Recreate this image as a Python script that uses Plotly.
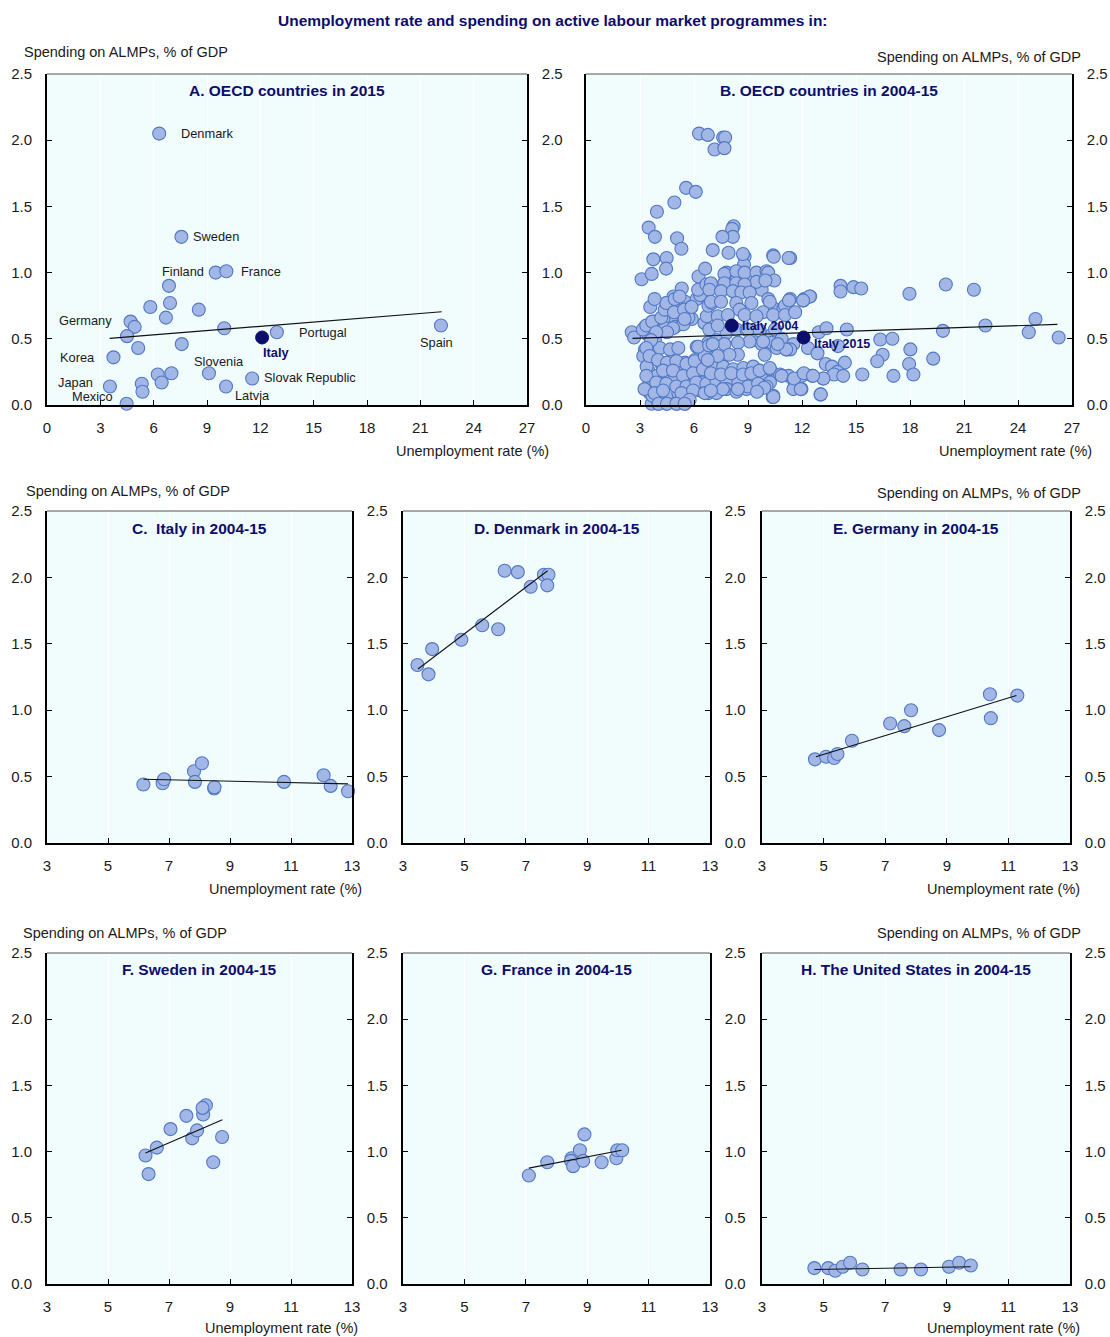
import plotly.graph_objects as go

W, H = 1110, 1337

# ---------------- DATA ----------------
# Panel A: OECD countries in 2015
A_names = ["Denmark", "Sweden", "Finland", "France", "", "", "", "", "", "Germany", "", "", "", "", "",
           "Portugal", "Spain", "Korea", "", "", "", "Slovenia", "Slovak Republic", "Latvia", "", "",
           "Japan", "Mexico"]
A_unemp = [6.31, 7.56, 9.49, 10.09, 6.86, 5.81, 6.92, 8.54, 6.69, 4.70, 4.93, 4.50, 5.13, 7.58, 9.97,
           12.93, 22.16, 3.74, 6.23, 7.00, 6.45, 9.11, 11.54, 10.07, 5.33, 5.37, 3.54, 4.48]
A_spend = [2.05, 1.27, 1.00, 1.01, 0.90, 0.74, 0.77, 0.72, 0.66, 0.63, 0.59, 0.52, 0.43, 0.46, 0.58,
           0.55, 0.60, 0.36, 0.23, 0.24, 0.17, 0.24, 0.20, 0.14, 0.16, 0.10, 0.14, 0.01]
A_italy = [12.10, 0.51]
A_trend_x = [3.52, 22.2]
A_trend_y = [0.503, 0.704]

# Panel B: OECD countries in 2004-15 (unemployment, spending)
B_points = [
    [6.28, 2.05], [6.77, 2.04], [7.62, 2.02], [7.73, 2.02], [7.14, 1.93], [7.69, 1.94],
    [5.56, 1.64], [6.10, 1.61], [4.91, 1.53], [3.94, 1.46], [3.48, 1.34], [3.83, 1.27],
    [8.20, 1.35], [8.12, 1.33], [8.16, 1.27], [7.58, 1.27], [5.06, 1.26], [5.30, 1.18],
    [3.74, 1.10], [4.48, 1.11], [4.45, 1.03], [3.09, 0.95], [3.65, 0.99], [6.25, 0.97], [6.62, 1.03],
    [5.32, 0.88], [4.86, 0.82], [4.48, 0.77], [5.04, 0.73], [5.50, 0.78], [5.84, 0.74], [5.88, 0.65],
    [4.76, 0.67], [4.30, 0.65], [3.80, 0.63], [3.28, 0.59], [2.54, 0.55], [2.67, 0.51], [3.46, 0.53],
    [3.98, 0.56], [4.39, 0.58], [4.95, 0.59], [5.41, 0.61], [5.69, 0.66], [6.15, 0.80], [6.34, 0.83],
    [6.58, 0.62], [6.71, 0.67], [6.80, 0.75], [7.00, 0.77],
    [3.83, 0.49], [3.28, 0.42], [3.18, 0.37], [3.74, 0.36], [4.11, 0.43], [4.67, 0.42], [5.13, 0.43],
    [6.15, 0.44], [6.80, 0.47], [6.84, 0.38], [6.06, 0.34], [5.50, 0.32], [4.76, 0.31], [4.20, 0.31],
    [3.46, 0.26], [3.37, 0.29], [3.93, 0.22], [4.39, 0.22], [4.95, 0.22], [5.41, 0.26], [5.88, 0.23],
    [6.34, 0.24], [6.80, 0.27], [6.52, 0.17], [6.06, 0.14], [5.41, 0.11], [4.86, 0.12], [4.30, 0.16],
    [3.93, 0.14], [3.46, 0.14], [3.55, 0.09], [4.11, 0.09], [4.58, 0.09], [5.13, 0.09], [5.78, 0.09],
    [6.34, 0.11], [6.80, 0.14], [6.80, 0.09], [3.65, 0.01], [4.02, 0.01], [4.48, 0.01], [5.04, 0.01],
    [5.50, 0.01], [3.69, 0.07],
    [3.16, 0.57], [3.35, 0.60], [3.68, 0.63], [4.18, 0.66], [4.37, 0.72], [4.46, 0.77], [4.93, 0.80],
    [5.20, 0.82], [4.89, 0.70], [5.45, 0.72], [5.86, 0.74], [5.48, 0.65], [4.83, 0.58], [4.50, 0.55],
    [3.90, 0.55], [3.62, 0.49], [3.35, 0.43], [3.53, 0.37], [4.00, 0.34], [4.50, 0.32], [5.02, 0.33],
    [5.58, 0.31], [6.04, 0.33], [6.60, 0.37], [6.23, 0.44], [6.84, 0.45], [7.25, 0.49], [7.81, 0.545],
    [8.36, 0.57], [8.92, 0.57], [9.29, 0.49], [9.76, 0.46], [10.04, 0.48], [10.32, 0.53], [10.78, 0.44],
    [11.15, 0.42], [11.52, 0.46], [4.28, 0.26], [4.83, 0.26], [5.39, 0.22], [5.95, 0.24], [6.50, 0.27],
    [7.06, 0.29], [7.62, 0.29], [8.18, 0.27], [8.74, 0.28], [9.29, 0.29], [9.76, 0.24], [10.22, 0.27],
    [10.78, 0.23], [11.25, 0.22], [3.35, 0.22], [3.90, 0.17], [4.46, 0.16], [5.02, 0.14], [5.58, 0.14],
    [6.13, 0.17], [6.69, 0.16], [7.25, 0.18], [7.81, 0.17], [8.46, 0.17], [9.01, 0.14], [9.67, 0.14],
    [10.22, 0.17], [3.25, 0.12], [3.81, 0.09], [4.28, 0.11], [5.30, 0.09], [5.95, 0.11], [6.60, 0.09],
    [7.25, 0.09], [7.81, 0.12], [8.36, 0.10], [8.92, 0.12], [9.48, 0.11], [10.37, 0.06], [5.76, 0.04],
    [4.03, 0.01], [4.50, 0.01], [5.02, 0.01], [5.48, 0.01], [3.57, 0.74], [3.81, 0.80],
    [6.23, 0.87], [6.69, 0.91], [7.81, 1.00], [7.71, 0.93], [8.92, 0.95], [9.76, 0.87], [10.13, 0.80],
    [10.41, 0.73], [10.97, 0.73], [11.34, 0.80], [12.12, 0.80], [12.45, 0.82],
    [7.04, 1.17], [7.92, 1.15], [8.81, 1.12], [8.78, 1.06], [8.72, 1.14], [10.40, 1.13], [11.34, 1.11],
    [7.69, 0.99], [8.35, 1.01], [8.81, 1.00], [9.47, 1.00], [10.03, 1.01], [10.12, 1.00], [10.46, 0.94],
    [9.47, 0.93], [9.97, 0.94], [6.94, 0.92], [7.69, 0.92], [8.35, 0.92], [8.81, 0.91], [6.85, 0.87],
    [7.50, 0.86], [8.16, 0.86], [8.63, 0.85], [9.09, 0.85], [6.94, 0.78], [7.50, 0.78], [8.35, 0.77],
    [8.53, 0.72], [9.19, 0.77], [10.21, 0.78], [11.06, 0.75], [9.84, 0.70], [10.40, 0.68], [11.06, 0.68],
    [11.62, 0.70], [7.32, 0.67], [7.88, 0.68], [8.81, 0.68], [9.47, 0.67], [6.85, 0.57], [7.32, 0.60],
    [9.00, 0.57], [9.65, 0.56], [10.50, 0.57], [10.87, 0.50], [10.31, 0.47], [9.84, 0.48], [9.09, 0.48],
    [8.44, 0.47], [7.69, 0.46], [7.04, 0.46], [8.44, 0.38], [7.97, 0.38], [7.32, 0.37], [6.76, 0.34],
    [9.93, 0.38], [10.59, 0.43], [11.34, 0.42], [6.94, 0.24], [7.50, 0.23], [8.07, 0.24], [8.72, 0.23],
    [9.19, 0.24], [9.65, 0.26], [10.21, 0.28], [10.87, 0.22], [11.52, 0.19], [11.99, 0.22], [9.00, 0.14],
    [8.44, 0.12], [7.60, 0.12], [6.94, 0.11], [10.03, 0.14], [9.56, 0.16], [10.40, 0.07], [11.52, 0.12],
    [10.43, 1.12], [11.26, 1.11], [11.28, 0.79], [12.07, 0.79], [11.12, 0.42], [10.65, 0.46],
    [11.56, 0.20], [11.97, 0.12], [13.03, 0.08], [13.18, 0.20], [12.57, 0.22], [12.10, 0.24],
    [10.41, 0.06], [9.90, 0.13], [9.50, 0.10],
    [14.14, 0.90], [14.14, 0.857], [14.86, 0.89], [15.29, 0.88], [17.97, 0.84], [19.99, 0.91],
    [21.55, 0.87], [12.43, 0.82], [12.06, 0.79], [12.93, 0.55], [13.36, 0.58], [14.49, 0.57],
    [16.35, 0.495], [17.02, 0.50], [19.83, 0.56], [22.19, 0.60], [24.97, 0.65], [24.60, 0.55],
    [26.26, 0.51], [12.33, 0.43], [12.86, 0.39], [14.00, 0.445], [18.02, 0.42], [16.48, 0.38],
    [16.18, 0.33], [19.29, 0.35], [17.95, 0.31], [14.38, 0.32], [13.32, 0.31], [13.67, 0.29],
    [13.97, 0.25], [13.78, 0.23], [14.29, 0.22], [13.19, 0.20], [12.61, 0.22], [15.35, 0.23],
    [17.08, 0.22], [18.19, 0.23], [11.93, 0.12], [13.04, 0.08],
]
B_unemp = [p[0] for p in B_points]
B_spend = [p[1] for p in B_points]
B_italy_labels = ["Italy 2004", "Italy 2015"]
B_italy_unemp = [8.10, 12.09]
B_italy_spend = [0.60, 0.51]
B_trend_x = [2.58, 26.19]
B_trend_y = [0.503, 0.609]

# Panels C-H: single countries in 2004-15
C_unemp = [6.16, 6.79, 6.84, 7.82, 7.85, 8.08, 8.48, 8.49, 10.77, 12.07, 12.30, 12.87]
C_spend = [0.44, 0.45, 0.48, 0.54, 0.46, 0.60, 0.41, 0.42, 0.46, 0.51, 0.43, 0.39]
C_trend_x, C_trend_y = [6.16, 12.87], [0.48, 0.445]

D_unemp = [3.47, 3.83, 3.95, 4.90, 5.58, 6.10, 6.31, 6.74, 7.16, 7.59, 7.74, 7.70]
D_spend = [1.34, 1.27, 1.46, 1.53, 1.64, 1.61, 2.05, 2.04, 1.93, 2.02, 2.02, 1.94]
D_trend_x, D_trend_y = [3.49, 7.71], [1.31, 2.05]

E_unemp = [4.72, 5.08, 5.34, 5.45, 5.92, 7.16, 7.62, 7.84, 8.75, 10.40, 10.43, 11.29]
E_spend = [0.63, 0.65, 0.64, 0.67, 0.77, 0.90, 0.88, 1.00, 0.85, 1.12, 0.94, 1.11]
E_trend_x, E_trend_y = [4.75, 11.26], [0.65, 1.11]

F_unemp = [6.23, 6.33, 6.60, 7.05, 7.57, 7.76, 7.92, 8.12, 8.21, 8.10, 8.45, 8.74]
F_spend = [0.97, 0.83, 1.03, 1.17, 1.27, 1.10, 1.16, 1.28, 1.35, 1.33, 0.92, 1.11]
F_trend_x, F_trend_y = [6.23, 8.75], [0.99, 1.24]

G_unemp = [7.10, 7.70, 8.49, 8.47, 8.54, 8.76, 8.87, 8.91, 9.47, 9.95, 9.98, 10.14]
G_spend = [0.82, 0.92, 0.95, 0.93, 0.89, 1.01, 0.93, 1.13, 0.92, 0.95, 1.01, 1.01]
G_trend_x, G_trend_y = [7.10, 10.12], [0.875, 1.01]

H_unemp = [4.70, 5.15, 5.38, 5.62, 5.86, 6.26, 7.50, 8.16, 9.07, 9.40, 9.78]
H_spend = [0.12, 0.12, 0.10, 0.13, 0.16, 0.11, 0.11, 0.11, 0.13, 0.16, 0.14]
H_trend_x, H_trend_y = [4.70, 9.78], [0.11, 0.13]

main_title = "Unemployment rate and spending on active labour market programmes in:"
panel_titles = ["A. OECD countries in 2015", "B. OECD countries in 2004-15", "C.  Italy in 2004-15",
                "D. Denmark in 2004-15", "E. Germany in 2004-15", "F. Sweden in 2004-15",
                "G. France in 2004-15", "H. The United States in 2004-15"]
y_title = "Spending on ALMPs, % of GDP"
x_title = "Unemployment rate (%)"
y_ticks = [0.0, 0.5, 1.0, 1.5, 2.0, 2.5]

# ---------------- STYLE ----------------
FONT = "Liberation Sans, Arial, sans-serif"
NAVY = "#0D0D6B"
TXT = "#1a1a1a"
FILL = "#A2B7E6"
EDGE = "#5178C4"
BG = "#F1FCFD"
TICK_SIZE = 15
AXT_SIZE = 14.5
LAB_SIZE = 12.8

def px_x(p):
    return p / W

def px_y(p):
    return 1 - p / H

# panel geometry in pixels: (left, right, top, bottom)
geom = [
    (47, 527, 74, 405), (586, 1072, 74, 405),
    (47, 352, 511, 843), (403, 710, 511, 843), (762, 1070, 511, 843),
    (47, 352, 953, 1284), (403, 710, 953, 1284), (762, 1070, 953, 1284),
]
xranges = [[0, 27], [0, 27]] + [[3, 13]] * 6
xdticks = [3, 3] + [2] * 6
xtick0 = [0, 0] + [3] * 6
left_label_panels = {0: 9, 2: 10, 5: 11}  # panel index -> overlay y-axis number

fig = go.Figure()

def ax(n, kind):
    return kind if n == 1 else f"{kind}{n}"

series = [
    (A_unemp, A_spend, A_trend_x, A_trend_y),
    (B_unemp, B_spend, B_trend_x, B_trend_y),
    (C_unemp, C_spend, C_trend_x, C_trend_y),
    (D_unemp, D_spend, D_trend_x, D_trend_y),
    (E_unemp, E_spend, E_trend_x, E_trend_y),
    (F_unemp, F_spend, F_trend_x, F_trend_y),
    (G_unemp, G_spend, G_trend_x, G_trend_y),
    (H_unemp, H_spend, H_trend_x, H_trend_y),
]

layout = dict(
    width=W, height=H, margin=dict(l=0, r=0, t=0, b=0, pad=0, autoexpand=False),
    paper_bgcolor="white", plot_bgcolor=BG, showlegend=False,
    font=dict(family=FONT, size=AXT_SIZE, color=TXT),
)
shapes = []
annotations = []
tickfont = dict(size=TICK_SIZE, color=TXT, family=FONT)

for i, (xs, ys, tx, ty) in enumerate(series):
    n = i + 1
    l, r, t, b = geom[i]
    xa = ax(n, "x")
    ya = ax(n, "y")
    fig.add_trace(go.Scatter(
        x=xs, y=ys, mode="markers", xaxis=xa, yaxis=ya, cliponaxis=False,
        marker=dict(size=13, color=FILL, line=dict(color=EDGE, width=1.1)),
        hoverinfo="skip"))
    trend_y_axis = ax(left_label_panels[i], "y") if i in left_label_panels else ya
    fig.add_trace(go.Scatter(
        x=tx, y=ty, mode="lines", xaxis=xa, yaxis=trend_y_axis,
        line=dict(color="#111111", width=1.1), hoverinfo="skip"))

    layout["xaxis" if n == 1 else f"xaxis{n}"] = dict(
        domain=[px_x(l), px_x(r)], anchor=ya, range=xranges[i], dtick=xdticks[i], tick0=xtick0[i],
        showline=True, linecolor="#000000", linewidth=1.6, automargin=False,
        ticks="inside", ticklen=5, tickwidth=1.2, tickcolor="#000000",
        showgrid=True, gridcolor="#FFFFFF", gridwidth=1.2, zeroline=False,
        ticklabelstandoff=8, tickfont=tickfont,
    )
    layout["yaxis" if n == 1 else f"yaxis{n}"] = dict(
        domain=[px_y(b), px_y(t)], anchor=xa, range=[0, 2.5], tickvals=y_ticks,
        tickformat=".1f", side="right", automargin=False,
        showline=True, linecolor="#000000", linewidth=1.6, mirror="ticks",
        ticks="inside", ticklen=5, tickwidth=1.2, tickcolor="#000000",
        showgrid=False, zeroline=False,
        ticklabelstandoff=10, tickfont=tickfont,
    )
    if i in left_label_panels:
        m = left_label_panels[i]
        layout[f"yaxis{m}"] = dict(
            overlaying=ya, anchor=xa, side="left", range=[0, 2.5], tickvals=y_ticks,
            tickformat=".1f", showline=False, ticks="", showgrid=False, zeroline=False,
            automargin=False, ticklabelstandoff=14, tickfont=tickfont,
        )
    # thin top border
    shapes.append(dict(type="line", xref=f"{xa} domain", yref=f"{ya} domain",
                       x0=0, x1=1, y0=1, y1=1, line=dict(color="#555555", width=1)))
    # panel title
    annotations.append(dict(text=f"<b>{panel_titles[i]}</b>", xref=f"{xa} domain", yref=f"{ya} domain",
                            x=0.5, y=1, yshift=-17, xanchor="center", yanchor="middle", showarrow=False,
                            font=dict(size=15.5, color=NAVY, family=FONT)))

# Italy highlights
fig.add_trace(go.Scatter(x=[A_italy[0]], y=[A_italy[1]], mode="markers", xaxis="x", yaxis="y",
                         marker=dict(size=13, color=NAVY, line=dict(color=NAVY, width=1)),
                         cliponaxis=False, hoverinfo="skip"))
fig.add_trace(go.Scatter(x=B_italy_unemp, y=B_italy_spend, mode="markers", xaxis="x2", yaxis="y2",
                         marker=dict(size=13, color=NAVY, line=dict(color=NAVY, width=1)),
                         cliponaxis=False, hoverinfo="skip"))

# Panel A labels: name -> (xanchor, xshift, yshift)
label_style = {
    "Denmark": ("left", 20, 0), "Sweden": ("left", 10, 0), "Finland": ("right", -10, 1),
    "France": ("left", 13, 0), "Germany": ("right", -17, 1), "Portugal": ("left", 20, 0),
    "Spain": ("right", 14, -17), "Korea": ("right", -16, 0), "Slovenia": ("left", -17, 12),
    "Slovak Republic": ("left", 10, 1), "Latvia": ("left", 7, -9), "Japan": ("right", -15, 4),
    "Mexico": ("right", -12, 7),
}
for name, x, y in zip(A_names, A_unemp, A_spend):
    if not name:
        continue
    xa_, dx, dy = label_style[name]
    annotations.append(dict(text=name, x=x, y=y, xref="x", yref="y", xanchor=xa_, yanchor="middle",
                            xshift=dx, yshift=dy, showarrow=False,
                            font=dict(size=LAB_SIZE, color=TXT, family=FONT)))
annotations.append(dict(text="<b>Italy</b>", x=A_italy[0], y=A_italy[1], xref="x", yref="y",
                        xanchor="left", yanchor="middle", xshift=-1, yshift=-15, showarrow=False,
                        font=dict(size=LAB_SIZE, color=NAVY, family=FONT)))
for lab, x, y, dx, dy in zip(B_italy_labels, B_italy_unemp, B_italy_spend, [8, 8], [0, -7]):
    annotations.append(dict(text=f"<b>{lab}</b>", x=x, y=y, xref="x2", yref="y2",
                            xanchor="left", yanchor="middle", xshift=dx, yshift=dy, showarrow=False,
                            font=dict(size=12.5, color=NAVY, family=FONT)))

# main title
annotations.append(dict(text=f"<b>{main_title}</b>", xref="paper", yref="paper", x=px_x(553), y=px_y(21),
                        xanchor="center", yanchor="middle", showarrow=False,
                        font=dict(size=15.5, color=NAVY, family=FONT)))

# axis titles (pixel positions)
ytitle_pos = [(22, 52, "left"), (1083, 57, "right"), (24, 491, "left"), (1083, 493, "right"),
              (21, 933, "left"), (1083, 933, "right")]
for px, py, anc in ytitle_pos:
    annotations.append(dict(text=y_title, xref="paper", yref="paper", x=px_x(px), y=px_y(py),
                            xanchor=anc, yanchor="middle", showarrow=False,
                            font=dict(size=AXT_SIZE, color=TXT, family=FONT)))
xtitle_pos = [(551, 451), (1094, 451), (364, 889), (1082, 889), (360, 1328), (1082, 1328)]
for px, py in xtitle_pos:
    annotations.append(dict(text=x_title, xref="paper", yref="paper", x=px_x(px), y=px_y(py),
                            xanchor="right", yanchor="middle", showarrow=False,
                            font=dict(size=AXT_SIZE, color=TXT, family=FONT)))

layout["shapes"] = shapes
layout["annotations"] = annotations
fig.update_layout(**layout)
fig.write_html(
    "out.html",
    config={"displayModeBar": False},
    post_script="document.body.style.margin='0px'; document.body.style.padding='0px'; "
                "document.documentElement.style.overflow='hidden';",
)
